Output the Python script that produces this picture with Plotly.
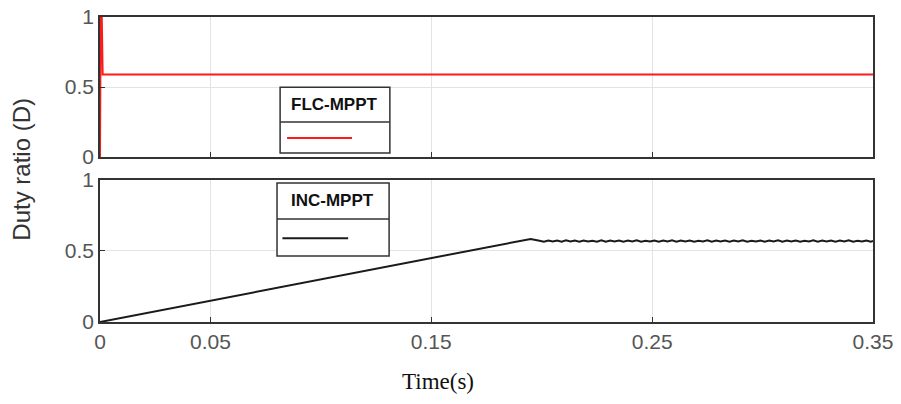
import numpy as np
import plotly.graph_objects as go
from plotly.subplots import make_subplots

# ---- data ----
flc_t = [0.0, 0.0003, 0.0008, 0.0012, 0.35]
flc_d = [0.0, 1.0, 1.0, 0.59, 0.59]

inc_ramp_t = [0.0, 0.05, 0.10, 0.15, 0.195]
inc_ramp_d = [0.0, 0.15, 0.30, 0.45, 0.585]

inc_ripple_t = list(np.round(np.arange(0.199, 0.35, 0.002), 4)) + [0.35]
inc_ripple_d = [0.572, 0.566, 0.574, 0.567, 0.573, 0.566, 0.575, 0.567, 0.573, 0.566,
                0.574, 0.567, 0.572, 0.566, 0.575, 0.566, 0.573, 0.567, 0.574, 0.566,
                0.573, 0.567, 0.575, 0.566, 0.572, 0.567, 0.574, 0.566, 0.573, 0.567,
                0.575, 0.566, 0.573, 0.567, 0.574, 0.566, 0.572, 0.567, 0.575, 0.566,
                0.573, 0.567, 0.574, 0.566, 0.573, 0.567, 0.575, 0.566, 0.572, 0.567,
                0.574, 0.566, 0.573, 0.567, 0.575, 0.566, 0.573, 0.567, 0.574, 0.566,
                0.572, 0.567, 0.575, 0.566, 0.573, 0.567, 0.574, 0.566, 0.573, 0.567,
                0.575, 0.566, 0.572, 0.567, 0.574, 0.566, 0.570]
inc_ripple_d = inc_ripple_d[:len(inc_ripple_t) - 1] + [0.570]

inc_t = inc_ramp_t + inc_ripple_t
inc_d = inc_ramp_d + inc_ripple_d

x_ticks = [0, 0.05, 0.15, 0.25, 0.35]
x_tick_labels = ["0", "0.05", "0.15", "0.25", "0.35"]
y_ticks = [0, 0.5, 1]
y_tick_labels = ["0", "0.5", "1"]

# ---- figure ----
fig = make_subplots(rows=2, cols=1, shared_xaxes=False, vertical_spacing=0.075)

fig.add_trace(go.Scatter(x=flc_t, y=flc_d, mode="lines",
                         line=dict(color="#ff1a1a", width=2), name="FLC-MPPT",
                         showlegend=False), row=1, col=1)
fig.add_trace(go.Scatter(x=inc_t, y=inc_d, mode="lines",
                         line=dict(color="#1a1a1a", width=2), name="INC-MPPT",
                         showlegend=False), row=2, col=1)

axis_common = dict(showline=True, linecolor="#333333", linewidth=1.5, mirror=True,
                   ticks="inside", ticklen=5, tickcolor="#333333",
                   showgrid=True, gridcolor="#e3e3e3", gridwidth=1, zeroline=False,
                   automargin=False,
                   tickfont=dict(family="Liberation Sans, Arial", size=21, color="#555555"))

fig.update_layout(
    xaxis=dict(domain=[0, 1], range=[0, 0.35], tickvals=x_ticks, ticktext=x_tick_labels,
               showticklabels=False, **axis_common),
    yaxis=dict(domain=[0.541, 1.0], range=[0, 1], tickvals=y_ticks, ticktext=y_tick_labels,
               **axis_common),
    xaxis2=dict(domain=[0, 1], range=[0, 0.35], tickvals=x_ticks, ticktext=x_tick_labels,
                **axis_common),
    yaxis2=dict(domain=[0.0, 0.4656], range=[0, 1], tickvals=y_ticks, ticktext=y_tick_labels,
                **axis_common),
)

fig.update_layout(
    width=901, height=404,
    margin=dict(l=100, r=28, t=17, b=82),
    paper_bgcolor="white", plot_bgcolor="white",
    showlegend=False,
)

# axis titles
fig.add_annotation(text="Time(s)", xref="paper", yref="paper", x=0.437, y=-0.195,
                   showarrow=False, xanchor="center", yanchor="middle",
                   font=dict(family="Liberation Serif, Times New Roman", size=23, color="#111111"))
fig.add_annotation(text="Duty ratio (D)", xref="paper", yref="paper", x=-0.102, y=0.50,
                   showarrow=False, textangle=-90, xanchor="center", yanchor="middle",
                   font=dict(family="Liberation Sans, Arial", size=24, color="#333333"))

# custom boxed legends
box_line = dict(color="#333333", width=1.5)
# FLC legend
fig.add_shape(type="rect", xref="paper", yref="paper", x0=0.233, x1=0.375, y0=0.554, y1=0.770,
              line=box_line, fillcolor="white", layer="above")
fig.add_shape(type="line", xref="paper", yref="paper", x0=0.233, x1=0.375, y0=0.656, y1=0.656,
              line=box_line)
fig.add_shape(type="line", xref="paper", yref="paper", x0=0.242, x1=0.326, y0=0.603, y1=0.603,
              line=dict(color="#ff1a1a", width=2))
fig.add_annotation(text="<b>FLC-MPPT</b>", xref="paper", yref="paper", x=0.304, y=0.713,
                   showarrow=False, xanchor="center", yanchor="middle",
                   font=dict(family="Liberation Sans, Arial", size=17, color="#111111"))
# INC legend
fig.add_shape(type="rect", xref="paper", yref="paper", x0=0.229, x1=0.374, y0=0.216, y1=0.456,
              line=box_line, fillcolor="white", layer="above")
fig.add_shape(type="line", xref="paper", yref="paper", x0=0.229, x1=0.374, y0=0.338, y1=0.338,
              line=box_line)
fig.add_shape(type="line", xref="paper", yref="paper", x0=0.236, x1=0.321, y0=0.275, y1=0.275,
              line=dict(color="#1a1a1a", width=2))
fig.add_annotation(text="<b>INC-MPPT</b>", xref="paper", yref="paper", x=0.301, y=0.400,
                   showarrow=False, xanchor="center", yanchor="middle",
                   font=dict(family="Liberation Sans, Arial", size=17, color="#111111"))

fig.write_html("out.html", config={"displayModeBar": False})

# remove default page margin so the figure sits at the window origin
with open("out.html", "r", encoding="utf-8") as f:
    html = f.read()
html = html.replace("<body>", '<body style="margin:0;padding:0;overflow:hidden">', 1)
with open("out.html", "w", encoding="utf-8") as f:
    f.write(html)
